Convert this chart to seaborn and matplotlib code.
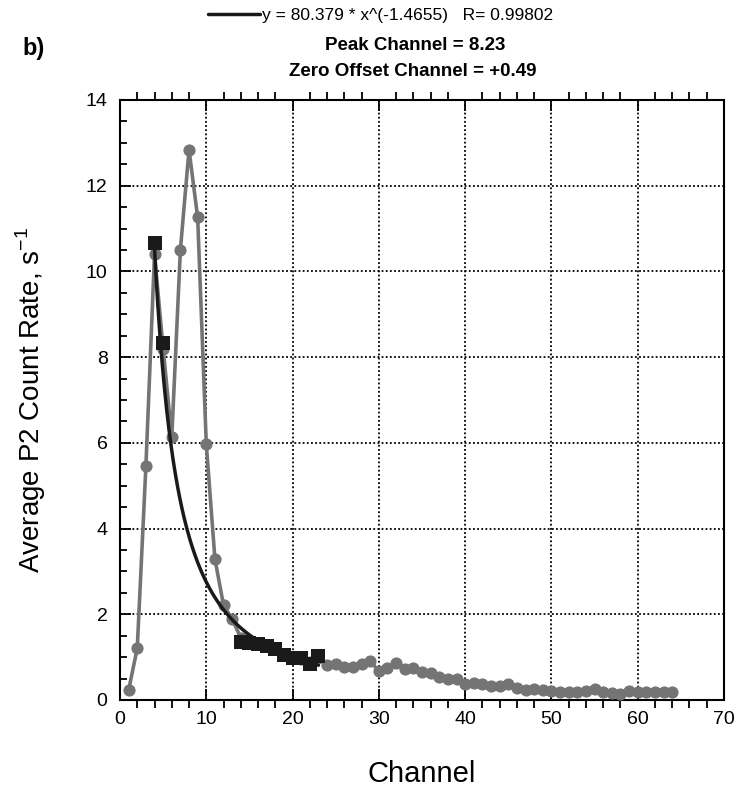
import numpy as np
import pandas as pd
import matplotlib
matplotlib.use("Agg")
import matplotlib.pyplot as plt
from matplotlib.ticker import MultipleLocator
import seaborn as sns

# ---- data ----
channels = list(range(1, 65))
gray_rate = [0.23, 1.21, 5.45, 10.4, 8.2, 6.13, 10.51, 12.84, 11.26, 5.97,
             3.29, 2.21, 1.89, 1.45, 1.36, 1.32, 1.27, 1.2, 1.07, 1.0,
             0.96, 0.88, 0.98, 0.82, 0.83, 0.78, 0.76, 0.83, 0.9, 0.68,
             0.75, 0.86, 0.72, 0.74, 0.65, 0.62, 0.54, 0.5, 0.5, 0.37,
             0.39, 0.37, 0.33, 0.33, 0.37, 0.27, 0.23, 0.26, 0.23, 0.21,
             0.18, 0.19, 0.19, 0.21, 0.25, 0.19, 0.17, 0.15, 0.21, 0.18,
             0.19, 0.19, 0.18, 0.19]

fit_channels = [4, 5, 14, 15, 16, 17, 18, 19, 20, 21, 22, 23]
fit_rate = [10.66, 8.32, 1.35, 1.33, 1.3, 1.25, 1.18, 1.05, 0.98, 0.97, 0.85, 1.02]

FIT_A = 80.379
FIT_B = -1.4655
FIT_R = 0.99802
FIT_X_START, FIT_X_END = 4, 23

legend_text = "y = 80.379 * x^(-1.4655)   R= 0.99802"
title1 = "Peak Channel = 8.23"
title2 = "Zero Offset Channel = +0.49"
panel_label = "b)"
xlabel = "Channel"
ylabel = "Average P2 Count Rate, s$^{-1}$"

# ---- styling ----
sns.set_style("ticks")
plt.rcParams['font.family'] = ['Liberation Sans', 'DejaVu Sans']
plt.rcParams['mathtext.fontset'] = 'custom'
plt.rcParams['mathtext.rm'] = 'Liberation Sans'
for k in ['text.color', 'axes.labelcolor', 'xtick.color', 'ytick.color',
          'axes.edgecolor']:
    plt.rcParams[k] = 'black'

W, H = 739, 792
fig = plt.figure(figsize=(W / 100, H / 100), dpi=100)
ax = fig.add_axes([120 / W, 1 - 700 / H, 604 / W, 600 / H])

GRAY = "#747474"
DARK = "#1a1a1a"

gray_df = pd.DataFrame({"Channel": channels, "Rate": gray_rate})
sq_df = pd.DataFrame({"Channel": fit_channels, "Rate": fit_rate})
xfit = np.linspace(FIT_X_START, FIT_X_END, 300)
fit_df = pd.DataFrame({"Channel": xfit, "Rate": FIT_A * xfit ** FIT_B})

sns.lineplot(data=gray_df, x="Channel", y="Rate", ax=ax, color=GRAY,
             linewidth=2.6, marker="o", markersize=8,
             markeredgecolor=GRAY, markerfacecolor=GRAY, zorder=3)
sns.scatterplot(data=sq_df, x="Channel", y="Rate", ax=ax, marker="s",
                s=90, color=DARK, edgecolor=DARK, linewidth=0, zorder=4)
sns.lineplot(data=fit_df, x="Channel", y="Rate", ax=ax, color=DARK,
             linewidth=2.5, zorder=5, label=legend_text)
if ax.get_legend():
    ax.get_legend().remove()

ax.set_xlim(0, 70)
ax.set_ylim(0, 14)
ax.xaxis.set_major_locator(MultipleLocator(10))
ax.xaxis.set_minor_locator(MultipleLocator(2))
ax.yaxis.set_major_locator(MultipleLocator(2))
ax.yaxis.set_minor_locator(MultipleLocator(0.5))

ax.grid(True, which="major", color="black", linestyle=(0, (1, 1.3)),
        linewidth=1.3)
for s in ax.spines.values():
    s.set_linewidth(1.5)
    s.set_color("black")

ax.tick_params(axis="x", which="major", direction="in", length=8, width=1.3,
               top=True, bottom=True, labelsize=14, pad=8, color="black",
               labelcolor="black")
ax.tick_params(axis="x", which="minor", direction="out", length=6, width=1.3,
               top=True, bottom=True, color="black")
ax.tick_params(axis="y", which="major", direction="in", length=8, width=1.3,
               labelsize=14, pad=9, color="black", labelcolor="black")
ax.tick_params(axis="y", which="minor", direction="in", length=5, width=1.3,
               color="black")

ax.set_xlabel(xlabel, fontsize=21, color="black")
ax.set_ylabel(ylabel, fontsize=20, color="black")
ax.xaxis.set_label_coords(0.5, -0.1)
ax.yaxis.set_label_coords((48 - 120) / 604, 0.5)

# header texts
handles, labels = ax.get_legend_handles_labels()
fig.legend(handles, labels, loc="center left",
           bbox_to_anchor=(208 / W, 1 - 15 / H), frameon=False,
           fontsize=12.5, handlelength=3.0, handletextpad=0.1,
           borderaxespad=0, borderpad=0, labelcolor="black")
fig.text(415 / W, 1 - 45 / H, title1, ha="center", va="center",
         fontsize=13.5, fontweight="bold", color="black")
fig.text(413 / W, 1 - 72 / H, title2, ha="center", va="center",
         fontsize=13.5, fontweight="bold", color="black")
fig.text(22 / W, 1 - 49 / H, panel_label, ha="left", va="center",
         fontsize=17, fontweight="bold", color="black")

fig.savefig("out.png", dpi=100)
